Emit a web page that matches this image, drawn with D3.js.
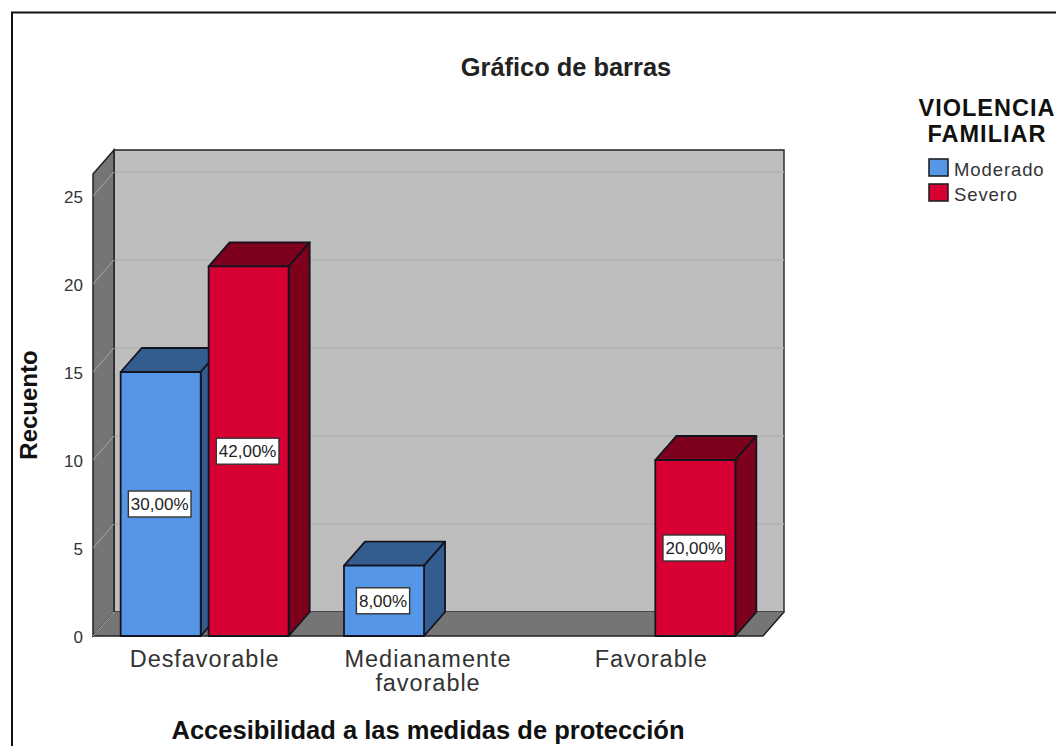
<!DOCTYPE html>
<html>
<head>
<meta charset="utf-8">
<script src="https://cdn.jsdelivr.net/npm/d3@7"></script>
<style>
  html, body { margin: 0; padding: 0; background: #fff; overflow: hidden; }
  text { font-family: "Liberation Sans", Arial, sans-serif; }
</style>
</head>
<body>
<div id="chart"></div>
<script>
const categories = ['Desfavorable', 'Medianamente favorable', 'Favorable'];
const seriesNames = ['Moderado', 'Severo'];
const moderado = [15, 4, null];
const severo = [21, null, 10];
const moderadoLabels = ['30,00%', '8,00%', null];
const severoLabels = ['42,00%', null, '20,00%'];
const yTicks = [0, 5, 10, 15, 20, 25];

const colors = {
  Moderado: { front: '#5596e6', dark: '#335c8f' },
  Severo: { front: '#d60032', dark: '#7d001c' }
};

const width = 1056, height = 746;
const margin = { left: 93, right: 293, top: 174, bottom: 110 };
const depthX = 21, depthY = -24;
const barWidth = 168;

const svg = d3.select('#chart').append('svg')
  .attr('width', width)
  .attr('height', height);

// Outer frame, runs off the right and bottom of the picture
svg.append('path')
  .attr('d', 'M12,' + height + 'V12.5H' + width)
  .attr('fill', 'none')
  .attr('stroke', '#111')
  .attr('stroke-width', 2);

// Scales
const x = d3.scaleBand().domain(categories).range([margin.left, width - margin.right]);
const xSeries = d3.scaleBand().domain(seriesNames).range([0, barWidth]).paddingInner(0.09);
const y = d3.scaleLinear().domain([0, 26.25]).range([height - margin.bottom, margin.top]);

const x0 = margin.left, x1 = width - margin.right;
const yBase = y(0), yTop = y(26.25);

function poly(points) {
  return 'M' + points.map(p => p.join(',')).join('L') + 'Z';
}

// Back wall
svg.append('path')
  .attr('d', poly([[x0 + depthX, yTop + depthY], [x1 + depthX, yTop + depthY], [x1 + depthX, yBase + depthY], [x0 + depthX, yBase + depthY]]))
  .attr('fill', '#bebebe')
  .attr('stroke', '#222')
  .attr('stroke-width', 1.4);

// Gridlines on back wall
svg.append('g').selectAll('line.back')
  .data(yTicks.slice(1))
  .join('line')
  .attr('class', 'back')
  .attr('x1', x0 + depthX)
  .attr('x2', x1 + depthX)
  .attr('y1', d => y(d) + depthY)
  .attr('y2', d => y(d) + depthY)
  .attr('stroke', '#b2b2b2')
  .attr('stroke-width', 1.5);

// Left wall
svg.append('path')
  .attr('d', poly([[x0, yTop], [x0 + depthX, yTop + depthY], [x0 + depthX, yBase + depthY], [x0, yBase]]))
  .attr('fill', '#757575')
  .attr('stroke', '#222')
  .attr('stroke-width', 1.5);

// Floor
svg.append('path')
  .attr('d', poly([[x0, yBase], [x1, yBase], [x1 + depthX, yBase + depthY], [x0 + depthX, yBase + depthY]]))
  .attr('fill', '#757575');
svg.append('path')
  .attr('d', 'M' + x0 + ',' + yBase + 'H' + x1 + 'L' + (x1 + depthX) + ',' + (yBase + depthY))
  .attr('fill', 'none')
  .attr('stroke', '#222')
  .attr('stroke-width', 1.5);

// Gridlines on left wall
svg.append('g').selectAll('line.side')
  .data(yTicks)
  .join('line')
  .attr('class', 'side')
  .attr('x1', x0)
  .attr('x2', x0 + depthX)
  .attr('y1', d => y(d))
  .attr('y2', d => y(d) + depthY)
  .attr('stroke', '#a8a8a8')
  .attr('stroke-width', 1);

// Y axis
const yAxis = svg.append('g')
  .attr('transform', 'translate(' + (x0 - 10) + ',1.5)')
  .call(d3.axisLeft(y).tickValues(yTicks).tickSize(0).tickPadding(0));
yAxis.select('.domain').remove();
yAxis.selectAll('text')
  .attr('font-size', 17)
  .attr('fill', '#333')
  .style('font-family', '"Liberation Sans", Arial, sans-serif');

// Bars
const bars = [];
categories.forEach((c, i) => {
  if (moderado[i] !== null) bars.push({ cat: c, series: 'Moderado', value: moderado[i], label: moderadoLabels[i] });
  if (severo[i] !== null) bars.push({ cat: c, series: 'Severo', value: severo[i], label: severoLabels[i] });
});

function barLeft(d) {
  return x(d.cat) + (x.bandwidth() - barWidth) / 2 + xSeries(d.series);
}

const barG = svg.append('g').selectAll('g')
  .data(bars)
  .join('g')
  .attr('stroke', '#14141e')
  .attr('stroke-width', 1.8)
  .attr('stroke-linejoin', 'round');

barG.append('path')
  .attr('fill', d => colors[d.series].dark)
  .attr('d', d => {
    const l = barLeft(d), r = l + xSeries.bandwidth(), t = y(d.value);
    return poly([[l, t], [r, t], [r + depthX, t + depthY], [l + depthX, t + depthY]]);
  });
barG.append('path')
  .attr('fill', d => colors[d.series].dark)
  .attr('d', d => {
    const r = barLeft(d) + xSeries.bandwidth(), t = y(d.value);
    return poly([[r, t], [r + depthX, t + depthY], [r + depthX, yBase + depthY], [r, yBase]]);
  });
barG.append('rect')
  .attr('fill', d => colors[d.series].front)
  .attr('x', d => barLeft(d))
  .attr('y', d => y(d.value))
  .attr('width', xSeries.bandwidth())
  .attr('height', d => yBase - y(d.value));

// Value labels
const labelG = svg.append('g').selectAll('g')
  .data(bars)
  .join('g')
  .attr('transform', d => 'translate(' + (barLeft(d) + xSeries.bandwidth() / 2 - 1) + ',' + ((y(d.value) + yBase) / 2) + ')');
const labelRect = labelG.append('rect')
  .attr('fill', '#fff')
  .attr('stroke', '#333')
  .attr('stroke-width', 1.4);
const labelText = labelG.append('text')
  .attr('text-anchor', 'middle')
  .attr('dy', '0.36em')
  .attr('font-size', 17)
  .attr('fill', '#222')
  .text(d => d.label);
labelRect.each(function(d, i) {
  const w = labelText.nodes()[i].getComputedTextLength() + 5;
  d3.select(this)
    .attr('x', -w / 2)
    .attr('y', -13)
    .attr('width', w)
    .attr('height', 26);
});

// Category labels
const catText = svg.append('g').selectAll('text')
  .data(categories)
  .join('text')
  .attr('text-anchor', 'middle')
  .attr('font-size', 23.5)
  .attr('letter-spacing', 0.95)
  .attr('fill', '#333')
  .attr('y', 667);
catText.each(function(d) {
  const parts = d.split(' ');
  const node = d3.select(this);
  parts.forEach((p, i) => {
    node.append('tspan')
      .attr('x', x(d) + x.bandwidth() / 2)
      .attr('dy', i === 0 ? 0 : 24)
      .text(p);
  });
});

// Titles
svg.append('text')
  .attr('x', 566).attr('y', 76)
  .attr('text-anchor', 'middle')
  .attr('font-size', 25.4)
  .attr('font-weight', 'bold')
  .attr('fill', '#222')
  .text('Gráfico de barras');
svg.append('text')
  .attr('x', 428).attr('y', 739)
  .attr('text-anchor', 'middle')
  .attr('font-size', 25.5)
  .attr('font-weight', 'bold')
  .attr('fill', '#111')
  .text('Accesibilidad a las medidas de protección');
svg.append('text')
  .attr('transform', 'translate(37,405) rotate(-90)')
  .attr('text-anchor', 'middle')
  .attr('font-size', 24)
  .attr('font-weight', 'bold')
  .attr('fill', '#111')
  .text('Recuento');

// Legend
svg.append('g').selectAll('text')
  .data(['VIOLENCIA', 'FAMILIAR'])
  .join('text')
  .attr('x', 987)
  .attr('y', (d, i) => 116 + i * 26)
  .attr('text-anchor', 'middle')
  .attr('font-size', 23.5)
  .attr('letter-spacing', 1)
  .attr('font-weight', 'bold')
  .attr('fill', '#111')
  .text(d => d);
const legend = svg.append('g').selectAll('g')
  .data(seriesNames)
  .join('g')
  .attr('transform', (d, i) => 'translate(929,' + (159 + i * 25) + ')');
legend.append('rect')
  .attr('width', 19)
  .attr('height', 17)
  .attr('fill', d => colors[d].front)
  .attr('stroke', '#222')
  .attr('stroke-width', 1.6);
legend.append('text')
  .attr('x', 25)
  .attr('y', 17)
  .attr('font-size', 18.5)
  .attr('letter-spacing', 0.9)
  .attr('fill', '#333')
  .text(d => d);
</script>
</body>
</html>
